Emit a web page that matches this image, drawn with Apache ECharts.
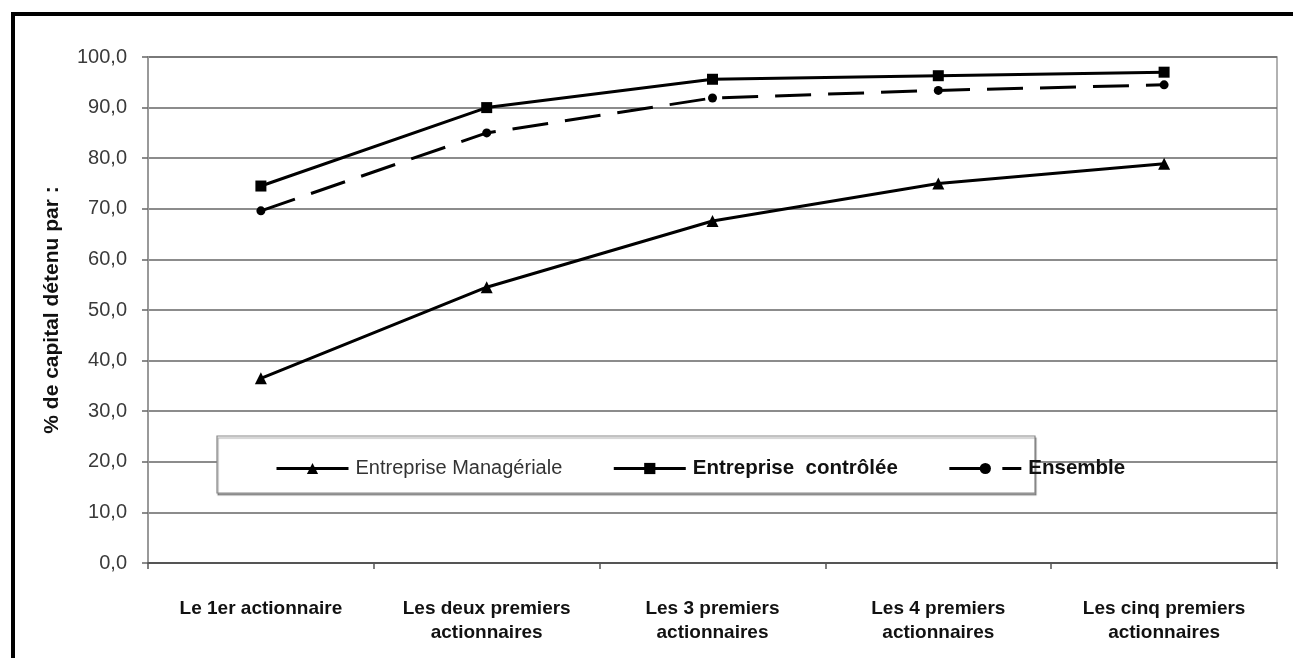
<!DOCTYPE html>
<html>
<head>
<meta charset="utf-8">
<script src="https://cdn.jsdelivr.net/npm/echarts@6/dist/echarts.min.js"></script>
<style>
html,body{margin:0;padding:0;background:#fff;}
#chart{width:1293px;height:658px;}
</style>
</head>
<body>
<div id="chart"></div>
<script>
var categories = ['Le 1er actionnaire', 'Les deux premiers\nactionnaires', 'Les 3 premiers\nactionnaires', 'Les 4 premiers\nactionnaires', 'Les cinq premiers\nactionnaires'];
var manageriale = [36.5, 54.5, 67.6, 75.0, 78.9];
var controlee = [74.5, 90.0, 95.6, 96.3, 97.0];
var ensemble = [69.6, 85.0, 91.9, 93.4, 94.5];
var seriesNames = ['Entreprise Managériale', 'Entreprise  contrôlée', 'Ensemble'];

var font = '"Liberation Sans", Arial, sans-serif';

var option = {
    backgroundColor: '#fff',
    animation: false,
    grid: {
        left: 148,
        right: 16,
        top: 57,
        bottom: 95,
        show: true,
        borderColor: '#999',
        borderWidth: 1.5
    },
    graphic: [
        // cadre noir de la page
        {type: 'line', z: 10, shape: {x1: 11, y1: 14, x2: 1293, y2: 14}, style: {stroke: '#000', lineWidth: 4}},
        {type: 'line', z: 10, shape: {x1: 13, y1: 12, x2: 13, y2: 658}, style: {stroke: '#000', lineWidth: 4}},
        // boite de la legende
        {
            type: 'rect', z: 3,
            shape: {x: 217, y: 436, width: 818, height: 57},
            style: {fill: '#fff', stroke: '#888', lineWidth: 1.2, shadowColor: 'rgba(0,0,0,0.35)', shadowOffsetX: 1, shadowOffsetY: 2, shadowBlur: 1}
        }
    ],
    legend: {
        z: 5,
        left: 270,
        top: 453,
        itemWidth: 72,
        itemHeight: 14,
        itemGap: 50,
        lineStyle: {width: 3},
        data: [
            {name: seriesNames[0], textStyle: {fontWeight: 'normal', color: '#333'}},
            {name: seriesNames[1], textStyle: {fontWeight: 'bold', color: '#111', fontSize: 20.5}},
            {name: seriesNames[2], textStyle: {fontWeight: 'bold', color: '#111', fontSize: 20.5}}
        ],
        textStyle: {fontFamily: font, fontSize: 20, padding: [0, 0, 0, 2]}
    },
    xAxis: {
        type: 'category',
        data: categories,
        boundaryGap: true,
        axisLine: {lineStyle: {color: '#555', width: 2}},
        axisTick: {show: true, length: 6, lineStyle: {color: '#555', width: 1.5}},
        axisLabel: {
            interval: 0,
            margin: 34,
            fontFamily: font,
            fontSize: 19,
            fontWeight: 'bold',
            color: '#111',
            lineHeight: 24
        }
    },
    yAxis: {
        type: 'value',
        min: 0,
        max: 100,
        interval: 10,
        name: '% de capital détenu par :',
        nameLocation: 'middle',
        nameGap: 85,
        nameTextStyle: {fontFamily: font, fontSize: 21, fontWeight: 'bold', color: '#111'},
        axisLine: {show: true, lineStyle: {color: '#999', width: 2}},
        axisTick: {show: true, length: 6, lineStyle: {color: '#666', width: 1.5}},
        axisLabel: {
            margin: 21,
            fontFamily: font,
            fontSize: 20,
            color: '#3a3a3a',
            formatter: function (v) { return v.toFixed(1).replace('.', ','); }
        },
        splitLine: {lineStyle: {color: '#666', width: 1.5}}
    },
    series: [
        {
            name: seriesNames[0],
            type: 'line',
            data: manageriale,
            symbol: 'triangle',
            symbolSize: 12,
            itemStyle: {color: '#000'},
            lineStyle: {color: '#000', width: 3}
        },
        {
            name: seriesNames[1],
            type: 'line',
            data: controlee,
            symbol: 'rect',
            symbolSize: 11,
            itemStyle: {color: '#000'},
            lineStyle: {color: '#000', width: 3}
        },
        {
            name: seriesNames[2],
            type: 'line',
            data: ensemble,
            symbol: 'circle',
            symbolSize: 9,
            itemStyle: {color: '#000'},
            lineStyle: {color: '#000', width: 3, type: [36, 17]}
        }
    ]
};

var myChart = echarts.init(document.getElementById('chart'));
myChart.setOption(option);
</script>
</body>
</html>
